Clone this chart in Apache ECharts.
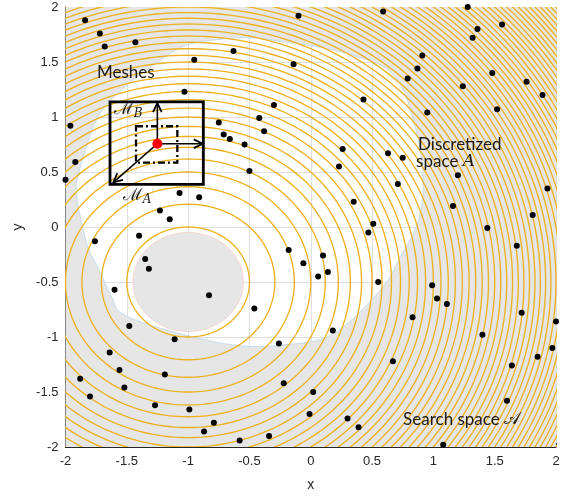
<!DOCTYPE html>
<html><head><meta charset="utf-8">
<script src="https://cdn.jsdelivr.net/npm/echarts@6/dist/echarts.min.js"></script>
<style>html,body{margin:0;padding:0;background:#fff}#c{width:569px;height:497px}</style>
</head><body><div id="c"></div>
<script>
// ---- axis ticks ----
const xTicks = [-2, -1.5, -1, -0.5, 0, 0.5, 1, 1.5, 2];
const yTicks = [-2, -1.5, -1, -0.5, 0, 0.5, 1, 1.5, 2];

// ---- sampled points (black dots) ----
const sampleX = [
  -1.84,-0.10,-1.72,-1.68,-1.43,-0.63,-0.95,-0.14,-1.03,-0.30,-1.96,-0.42,-0.75,-0.38,-0.71,-0.66,-0.54,-1.92,-2.00,-0.50,-1.07,-0.91,-1.23,-1.15,-1.40,
  0.59,1.28,1.36,1.56,1.32,0.91,0.87,0.79,1.48,1.24,1.76,1.89,1.52,0.95,0.43,0.26,0.63,0.75,0.23,1.20,0.71,1.93,0.35,1.16,1.81,0.51,1.44,0.47,
  -1.76,-1.35,-1.32,-0.18,-0.06,-1.60,-0.83,-0.46,-1.48,-1.11,-0.26,-1.64,-1.56,-1.19,-1.88,-1.52,-0.22,-1.80,-1.27,-0.99,-0.01,-0.79,-0.87,-0.34,-0.58,
  0.10,0.06,0.14,0.55,1.68,0.99,1.03,1.11,1.72,2.00,0.83,0.18,1.40,1.97,1.85,0.67,1.64,0.02,1.60,0.30,0.39,1.08
];
const sampleY = [
  1.88,1.92,1.76,1.64,1.68,1.60,1.52,1.48,1.23,1.11,0.92,0.99,0.95,0.87,0.84,0.80,0.75,0.59,0.43,0.51,0.31,0.27,0.15,0.07,-0.08,
  1.96,2.00,1.80,1.84,1.72,1.56,1.44,1.35,1.40,1.28,1.32,1.20,1.07,1.04,1.16,0.71,0.67,0.63,0.55,0.47,0.39,0.35,0.23,0.19,0.11,0.03,-0.01,-0.05,
  -0.13,-0.29,-0.38,-0.21,-0.33,-0.57,-0.62,-0.74,-0.90,-1.02,-1.06,-1.14,-1.30,-1.34,-1.38,-1.46,-1.42,-1.54,-1.62,-1.66,-1.70,-1.78,-1.86,-1.90,-1.94,
  -0.26,-0.45,-0.41,-0.50,-0.17,-0.53,-0.65,-0.70,-0.78,-0.86,-0.82,-0.94,-0.98,-1.10,-1.18,-1.22,-1.26,-1.50,-1.58,-1.74,-1.82,-1.98
];

// ---- contour levels of (x-cx)^2 + (y-cy)^2 ----
const contourCenter = [-1, -0.5];
const contourLevels = [
  0.25,0.5,0.75,1,1.25,1.5,1.75,2,2.25,2.5,2.75,3,3.25,3.5,3.75,4,4.25,4.5,4.75,5,
  5.25,5.5,5.75,6,6.25,6.5,6.75,7,7.25,7.5,7.75,8,8.25,8.5,8.75,9,9.25,9.5,9.75,10,
  10.25,10.5,10.75,11,11.25,11.5,11.75,12,12.25,12.5,12.75,13,13.25,13.5,13.75,14,14.25,14.5,14.75,15,15.25
];

// ---- excluded inner disc ----
const innerDiscCenter = [-1, -0.5];
const innerDiscRadius = 0.45;

// ---- discretized space boundary ----
const boundaryX = [-1.311,-1.042,-0.764,-0.495,-0.226,0.051,0.320,0.606,0.753,0.826,0.892,0.916,0.867,0.728,0.565,0.182,-0.226,-0.634,-1.172,-1.531,-1.621,-1.735,-1.816,-1.882,-1.906,-1.898,-1.743,-1.555];
const boundaryY = [1.450,1.640,1.703,1.721,1.685,1.640,1.568,1.450,1.252,1.009,0.712,0.324,0.018,-0.279,-0.577,-0.973,-1.072,-1.072,-0.937,-0.793,-0.640,-0.369,-0.189,0.108,0.288,0.468,0.982,1.234];

// ---- mesh illustration ----
const meshCenter = [-1.251, 0.757];
const meshOuterX = [-1.637, -0.876];
const meshOuterY = [0.387, 1.138];
const meshInnerX = [-1.425, -1.088];
const meshInnerY = [0.586, 0.916];
const arrowTips = [[-1.251, 1.126], [-0.881, 0.757], [-1.610, 0.405]];

const ORANGE = '#EDB120';
const AX = '#262626';
const FONT = 'Lato, "Open Sans", sans-serif';

function smoothClosed(pts) {
  const n = pts.length;
  let d = 'M' + pts[0][0].toFixed(2) + ',' + pts[0][1].toFixed(2);
  for (let i = 0; i < n; i++) {
    const p0 = pts[(i - 1 + n) % n], p1 = pts[i], p2 = pts[(i + 1) % n], p3 = pts[(i + 2) % n];
    const c1 = [p1[0] + (p2[0] - p0[0]) / 6, p1[1] + (p2[1] - p0[1]) / 6];
    const c2 = [p2[0] - (p3[0] - p1[0]) / 6, p2[1] - (p3[1] - p1[1]) / 6];
    d += ' C' + c1[0].toFixed(2) + ',' + c1[1].toFixed(2) + ' ' + c2[0].toFixed(2) + ',' + c2[1].toFixed(2) + ' ' + p2[0].toFixed(2) + ',' + p2[1].toFixed(2);
  }
  return d + ' Z';
}

function circlePts(api, c, r, n) {
  const pts = [];
  for (let i = 0; i <= n; i++) {
    const t = 2 * Math.PI * i / n;
    pts.push(api.coord([c[0] + r * Math.cos(t), c[1] + r * Math.sin(t)]));
  }
  return pts;
}

const chart = echarts.init(document.getElementById('c'), null, {renderer: 'canvas'});

const option = {
  animation: false,
  backgroundColor: '#ffffff',
  grid: {left: 65.5, right: 13, top: 7, bottom: 46},
  xAxis: {
    type: 'value', min: xTicks[0], max: xTicks[xTicks.length - 1], interval: 0.5,
    name: 'x', nameLocation: 'middle', nameGap: 31,
    nameTextStyle: {fontSize: 14, color: AX, fontFamily: 'Liberation Sans'},
    axisLine: {show: true, onZero: false, lineStyle: {color: AX, width: 1}},
    axisTick: {show: true, inside: true, length: 4, lineStyle: {color: AX}},
    axisLabel: {fontSize: 13, color: AX, margin: 8, fontFamily: 'Liberation Sans'},
    splitLine: {show: true, lineStyle: {color: '#dfdfdf', width: 1}}
  },
  yAxis: {
    type: 'value', min: yTicks[0], max: yTicks[yTicks.length - 1], interval: 0.5,
    name: 'y', nameLocation: 'middle', nameGap: 36,
    nameTextStyle: {fontSize: 14, color: AX, fontFamily: 'Liberation Sans'},
    axisLine: {show: true, onZero: false, lineStyle: {color: AX, width: 1}},
    axisTick: {show: true, inside: true, length: 4, lineStyle: {color: AX}},
    axisLabel: {fontSize: 13, color: AX, margin: 7, fontFamily: 'Liberation Sans'},
    splitLine: {show: true, lineStyle: {color: '#dfdfdf', width: 1}}
  },
  series: [
    {
      type: 'custom', silent: true, clip: false, z: 1,
      data: [0],
      renderItem: function (params, api) {
        const tl = api.coord([xTicks[0], yTicks[yTicks.length - 1]]);
        const br = api.coord([xTicks[xTicks.length - 1], yTicks[0]]);
        const b = boundaryX.map((x, i) => api.coord([x, boundaryY[i]]));
        const rectPath = 'M' + tl[0] + ',' + tl[1] + ' L' + br[0] + ',' + tl[1] + ' L' + br[0] + ',' + br[1] + ' L' + tl[0] + ',' + br[1] + ' Z ';
        const hole = smoothClosed(b.slice().reverse());
        const disc = circlePts(api, innerDiscCenter, innerDiscRadius, 120);
        return {
          type: 'group',
          children: [
            {type: 'path', shape: {pathData: rectPath + hole}, style: {fill: '#e6e6e6', stroke: null}},
            {type: 'path', shape: {pathData: smoothClosed(b)}, style: {fill: null, stroke: '#bcd6ea', lineWidth: 0.8}},
            {type: 'polygon', shape: {points: disc}, style: {fill: '#e6e6e6', stroke: '#f1cfc6', lineWidth: 0.8}}
          ]
        };
      }
    },
    {
      type: 'custom', silent: true, clip: true, z: 2,
      data: contourLevels.map(v => [v]),
      renderItem: function (params, api) {
        const r = Math.sqrt(api.value(0));
        return {
          type: 'polyline',
          shape: {points: circlePts(api, contourCenter, r, 240)},
          style: {fill: null, stroke: ORANGE, lineWidth: 1.35}
        };
      }
    },
    {
      type: 'scatter', z: 3, clip: false,
      data: sampleX.map((x, i) => [x, sampleY[i]]),
      symbol: 'circle', symbolSize: 6,
      itemStyle: {color: '#000000', opacity: 1}
    },
    {
      type: 'custom', silent: true, clip: false, z: 4,
      data: [0],
      renderItem: function (params, api) {
        const o1 = api.coord([meshOuterX[0], meshOuterY[1]]);
        const o2 = api.coord([meshOuterX[1], meshOuterY[0]]);
        const i1 = api.coord([meshInnerX[0], meshInnerY[1]]);
        const i2 = api.coord([meshInnerX[1], meshInnerY[0]]);
        const c = api.coord(meshCenter);
        const kids = [
          {type: 'rect', shape: {x: o1[0], y: o1[1], width: o2[0] - o1[0], height: o2[1] - o1[1]},
           style: {fill: null, stroke: '#000', lineWidth: 2.8}},
          {type: 'rect', shape: {x: i1[0], y: i1[1], width: i2[0] - i1[0], height: i2[1] - i1[1]},
           style: {fill: null, stroke: '#000', lineWidth: 2.3, lineDash: [7, 3, 2, 3]}}
        ];
        arrowTips.forEach(t => {
          const p = api.coord(t);
          const dx = p[0] - c[0], dy = p[1] - c[1];
          const len = Math.hypot(dx, dy);
          const ux = dx / len, uy = dy / len;
          const L = 10, a = 0.45;
          const h1 = [p[0] - L * (ux * Math.cos(a) - uy * Math.sin(a)), p[1] - L * (uy * Math.cos(a) + ux * Math.sin(a))];
          const h2 = [p[0] - L * (ux * Math.cos(-a) - uy * Math.sin(-a)), p[1] - L * (uy * Math.cos(-a) + ux * Math.sin(-a))];
          kids.push({type: 'line', shape: {x1: c[0], y1: c[1], x2: p[0], y2: p[1]}, style: {stroke: '#000', lineWidth: 1.6}});
          kids.push({type: 'polyline', shape: {points: [h1, p, h2]}, style: {fill: null, stroke: '#000', lineWidth: 1.8}});
        });
        kids.push({type: 'circle', shape: {cx: c[0], cy: c[1], r: 5}, style: {fill: '#ff0000'}});

        function txt(pos, text, rich) {
          const p = api.coord(pos);
          return {type: 'text', x: p[0], y: p[1],
            style: {text: text, rich: rich, fill: '#1a1a1a', font: '17px ' + FONT, align: 'left', verticalAlign: 'middle'}};
        }
        const base = {fontFamily: FONT, fontSize: 17, color: '#1a1a1a', lineHeight: 20, verticalAlign: 'middle'};
        const ital = {fontFamily: '"DejaVu Serif", serif', fontStyle: 'italic', fontSize: 17, color: '#1a1a1a', lineHeight: 20, verticalAlign: 'middle'};
        const mcal = {fontFamily: '"DejaVu Serif", serif', fontSize: 17, color: '#1a1a1a', lineHeight: 22, verticalAlign: 'middle'};
        const sub = {fontFamily: '"DejaVu Serif", serif', fontStyle: 'italic', fontSize: 12, color: '#1a1a1a', lineHeight: 22, verticalAlign: 'bottom'};
        kids.push(txt([-1.743, 1.405], '{t|Meshes}', {t: base}));
        kids.push(txt([0.875, 0.752], '{t|Discretized}', {t: base}));
        kids.push(txt([0.859, 0.599], '{t|space }{a|A}', {t: base, a: ital}));
        kids.push(txt([0.753, -1.752], '{t|Search space }{a|\u{1D49C}}', {t: base, a: {fontFamily: '"DejaVu Sans", "Noto Sans", serif', fontSize: 17, color: '#1a1a1a', lineHeight: 20, verticalAlign: 'middle'}}));
        kids.push(txt([-1.606, 1.072], '{m|\u2133}{s|B}', {m: mcal, s: sub}));
        kids.push(txt([-1.533, 0.288], '{m|\u2133}{s|A}', {m: mcal, s: sub}));
        return {type: 'group', children: kids};
      }
    }
  ]
};
chart.setOption(option);
</script>
</body></html>
